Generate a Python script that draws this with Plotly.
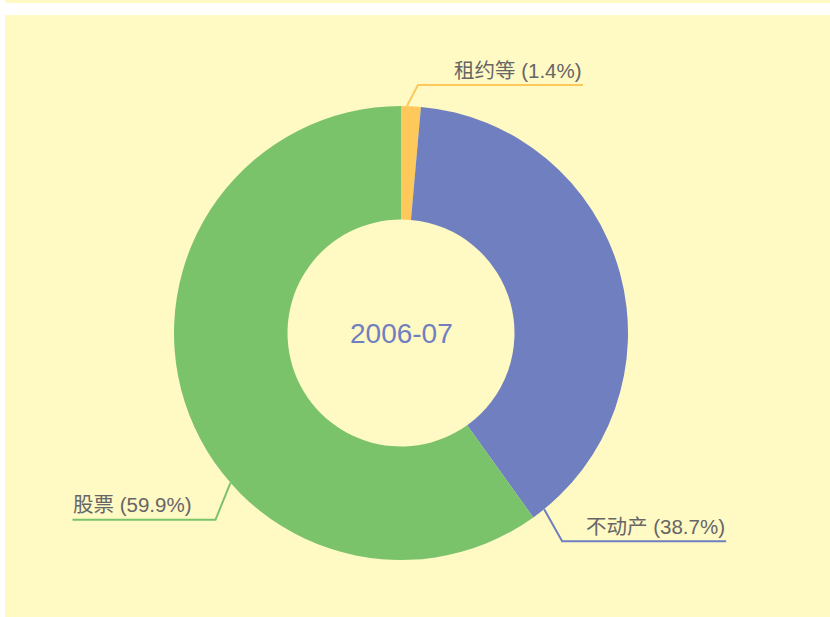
import math
import plotly.graph_objects as go

# ---- data ----
categories = ["租约等", "不动产", "股票"]
values = [1.4, 38.7, 59.9]
center_title = "2006-07"

# ---- style ----
colors = ["#FFC85A", "#6F7FBF", "#7AC36A"]
BG = "#FFF9C4"
TEXT = "#666666"
W, H = 830, 617
CX, CY, R = 401, 333, 227
# leader line geometry (pixels): anchor angle on the ring (deg clockwise from top),
# elbow offset from anchor, horizontal run
leader = [
    dict(angle=1.5, elbow=(11, -21), run=165),
    dict(angle=140.9, elbow=(18, 32), run=164),
    dict(angle=228.7, elbow=(-15, 37), run=-143),
]

def px(x):
    return x / W

def py(y):
    return 1 - y / H

fig = go.Figure()
fig.add_trace(go.Pie(
    labels=categories, values=values, hole=0.5, sort=False,
    direction="clockwise", rotation=0, textinfo="none",
    marker=dict(colors=colors, line=dict(width=0)),
    hoverinfo="label+percent", showlegend=False,
    domain=dict(x=[px(CX - R), px(CX + R)], y=[py(CY + R), py(CY - R)]),
))

shapes = [
    dict(type="rect", xref="paper", yref="paper", x0=px(5), x1=1, y0=py(3), y1=1,
         fillcolor=BG, line=dict(width=0), layer="below"),
    dict(type="rect", xref="paper", yref="paper", x0=px(5), x1=1, y0=0, y1=py(15),
         fillcolor=BG, line=dict(width=0), layer="below"),
]
annotations = []
total = sum(values)
for name, v, c, ld in zip(categories, values, colors, leader):
    a = math.radians(ld["angle"])
    x0 = CX + R * math.sin(a)
    y0 = CY - R * math.cos(a)
    x1 = x0 + ld["elbow"][0]
    y1 = y0 + ld["elbow"][1]
    x2 = x1 + ld["run"]
    path = f"M {px(x0)},{py(y0)} L {px(x1)},{py(y1)} L {px(x2)},{py(y1)}"
    shapes.append(dict(type="path", xref="paper", yref="paper", path=path,
                       line=dict(color=c, width=2)))
    right = ld["run"] > 0
    annotations.append(dict(
        x=px(x2 + 1 if right else x2 - 1), y=py(y1 - 15), xref="paper", yref="paper",
        xanchor="right" if right else "left", yanchor="middle", showarrow=False,
        text=f"{name} ({v / total * 100:.1f}%)",
        font=dict(size=20.5, color=TEXT, family="Arial, 'Noto Sans CJK SC', sans-serif"),
    ))

annotations.append(dict(
    x=px(CX), y=py(CY), xref="paper", yref="paper", showarrow=False,
    text=center_title, xanchor="center", yanchor="middle",
    font=dict(size=28, color="#6F7FBF", family="Arial, 'Noto Sans CJK SC', sans-serif"),
))

fig.update_layout(
    width=W, height=H, margin=dict(l=0, r=0, t=0, b=0),
    paper_bgcolor="white", plot_bgcolor="white",
    shapes=shapes, annotations=annotations,
)
fig.write_html("out.html", config={"displayModeBar": False},
               post_script="document.body.style.margin='0';")
